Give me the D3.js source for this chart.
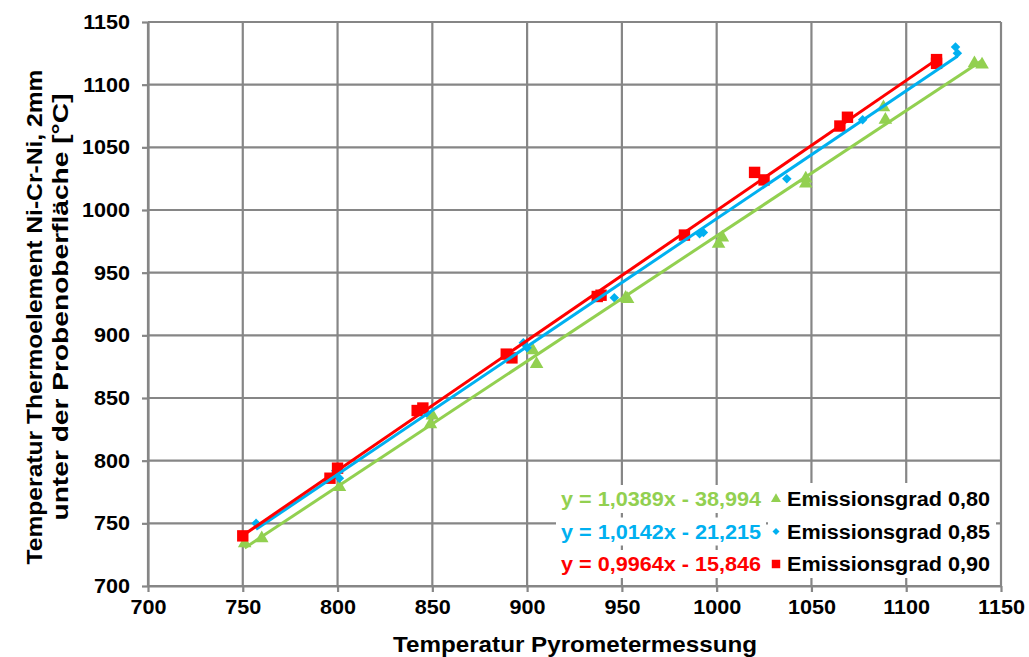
<!DOCTYPE html>
<html>
<head>
<meta charset="utf-8">
<script src="https://cdn.jsdelivr.net/npm/d3@7"></script>
<style>
  html, body { margin: 0; padding: 0; background: #fff; }
  svg { display: block; }
  text { font-family: "Liberation Sans", Arial, sans-serif; font-weight: bold; }
</style>
</head>
<body>
<svg id="chart" width="1029" height="657"></svg>
<script>
// ---- data ----
const xTicks = [700, 750, 800, 850, 900, 950, 1000, 1050, 1100, 1150];
const yTicks = [700, 750, 800, 850, 900, 950, 1000, 1050, 1100, 1150];

const xGreen = [751, 760, 801, 849, 850, 903, 905, 952, 953, 1001, 1003, 1047, 1047, 1088, 1089, 1136, 1140];
const yGreen = [734, 738, 779, 829, 836, 888, 877, 930, 929, 973, 978, 1021, 1025, 1082, 1072, 1117, 1116];

const xBlue = [757, 799, 801, 847, 898, 900, 946, 991, 993, 1037, 1077, 1126, 1127];
const yBlue = [750, 792, 786, 838, 894, 890, 930, 981, 982, 1025, 1072, 1130, 1125];

const xRed = [750, 796, 800, 842, 845, 889, 892, 937, 939, 983, 1020, 1025, 1065, 1069, 1116, 1116];
const yRed = [740, 786, 794, 840, 842, 885, 882, 931, 932, 980, 1030, 1024, 1067, 1074, 1120, 1117];

const seriesNames = ["Emissionsgrad 0,80", "Emissionsgrad 0,85", "Emissionsgrad 0,90"];
const equations = ["y = 1,0389x - 38,994", "y = 1,0142x - 21,215", "y = 0,9964x - 15,846"];
const colors = ["#92D050", "#00B0F0", "#FF0000"];
const symbols = [d3.symbolTriangle, d3.symbolSquare, d3.symbolSquare];
const symbolRot = [0, 45, 0];
const symbolSizes = [80, 45, 130];

const xTitle = "Temperatur Pyrometermessung";
const yTitle1 = "Temperatur Thermoelement Ni-Cr-Ni, 2mm";
const yTitle2 = "unter der Probenoberfläche [°C]";

// ---- layout ----
const svg = d3.select("#chart");
const m = { left: 148, top: 22, right: 1001, bottom: 586 };
const x = d3.scaleLinear().domain([700, 1150]).range([m.left, m.right]);
const y = d3.scaleLinear().domain([700, 1150]).range([m.bottom, m.top]);
const gridColor = "#868686";
const sx = 1.08;

// gridlines
const g = svg.append("g");
g.selectAll("line.vg").data(xTicks).join("line")
  .attr("x1", d => x(d)).attr("x2", d => x(d))
  .attr("y1", m.top).attr("y2", m.bottom)
  .attr("stroke", gridColor).attr("stroke-width", 2.2);
g.selectAll("line.hg").data(yTicks).join("line")
  .attr("x1", m.left).attr("x2", m.right)
  .attr("y1", d => y(d)).attr("y2", d => y(d))
  .attr("stroke", gridColor).attr("stroke-width", 2.2);

// axes
const xAxis = svg.append("g").attr("transform", `translate(0,${m.bottom})`)
  .call(d3.axisBottom(x).tickValues(xTicks).tickSize(6).tickSizeOuter(0).tickFormat(d3.format("d")));
const yAxis = svg.append("g").attr("transform", `translate(${m.left},0)`)
  .call(d3.axisLeft(y).tickValues(yTicks).tickSize(6).tickSizeOuter(0).tickFormat(d3.format("d")));
[xAxis, yAxis].forEach(a => {
  a.select(".domain").attr("stroke", gridColor).attr("stroke-width", 2.2);
  a.selectAll(".tick line").attr("stroke", gridColor).attr("stroke-width", 2.2);
  a.selectAll("text").attr("fill", "#000").style("font-size", "20px")
    .style("font-family", "'Liberation Sans', Arial, sans-serif").style("font-weight", "bold");
});
xAxis.selectAll("text").attr("y", 14).attr("transform", `scale(${sx},1)`);
yAxis.selectAll("text").attr("x", -18 / sx).attr("transform", `scale(${sx},1)`);

// regression helper (least squares from the data above)
function fit(xs, ys) {
  const mx = d3.mean(xs), my = d3.mean(ys);
  let num = 0, den = 0;
  xs.forEach((v, i) => { num += (v - mx) * (ys[i] - my); den += (v - mx) * (v - mx); });
  const b = num / den, a = my - b * mx;
  const x0 = d3.min(xs), x1 = d3.max(xs);
  return [[x0, a + b * x0], [x1, a + b * x1]];
}

const series = [
  { xs: xGreen, ys: yGreen },
  { xs: xBlue, ys: yBlue },
  { xs: xRed, ys: yRed }
];

// markers
series.forEach((s, i) => {
  svg.append("g").selectAll("path").data(s.xs.map((v, j) => [v, s.ys[j]])).join("path")
    .attr("transform", d => `translate(${x(d[0])},${y(d[1])}) rotate(${symbolRot[i]})`)
    .attr("d", d3.symbol().type(symbols[i]).size(symbolSizes[i]))
    .attr("fill", colors[i]);
});
// trend lines
const line = d3.line().x(d => x(d[0])).y(d => y(d[1]));
series.forEach((s, i) => {
  svg.append("path").attr("d", line(fit(s.xs, s.ys)))
    .attr("stroke", colors[i]).attr("stroke-width", 3).attr("fill", "none");
});

// equation labels & legend
const rowY = [499, 531.5, 564];
svg.append("rect").attr("x", 768).attr("y", 483).attr("width", 228).attr("height", 95).attr("fill", "#fff");
rowY.forEach((ry, i) => {
  svg.append("rect").attr("x", 556).attr("y", ry - 14).attr("width", 210).attr("height", 28).attr("fill", "#fff");
  svg.append("text").attr("x", 761).attr("y", ry + 7).attr("text-anchor", "end")
    .attr("fill", colors[i]).style("font-size", "19.5px")
    .attr("textLength", 200).attr("lengthAdjust", "spacingAndGlyphs").text(equations[i]);
  svg.append("path").attr("transform", `translate(776,${ry}) rotate(${symbolRot[i]})`)
    .attr("d", d3.symbol().type(symbols[i]).size(symbolSizes[i] * 0.55)).attr("fill", colors[i]);
  svg.append("text").attr("x", 787).attr("y", ry + 7)
    .attr("fill", "#000").style("font-size", "19.5px")
    .attr("textLength", 203).attr("lengthAdjust", "spacingAndGlyphs").text(seriesNames[i]);
});

// axis titles
svg.append("text").attr("x", 575).attr("y", 652).attr("text-anchor", "middle")
  .style("font-size", "22.5px").attr("textLength", 364).attr("lengthAdjust", "spacingAndGlyphs").text(xTitle);
svg.append("text").attr("transform", "translate(42,317) rotate(-90)").attr("text-anchor", "middle")
  .style("font-size", "22.5px").attr("textLength", 495).attr("lengthAdjust", "spacingAndGlyphs").text(yTitle1);
svg.append("text").attr("transform", "translate(68,307) rotate(-90)").attr("text-anchor", "middle")
  .style("font-size", "22.5px").attr("textLength", 427).attr("lengthAdjust", "spacingAndGlyphs").text(yTitle2);
</script>
</body>
</html>
